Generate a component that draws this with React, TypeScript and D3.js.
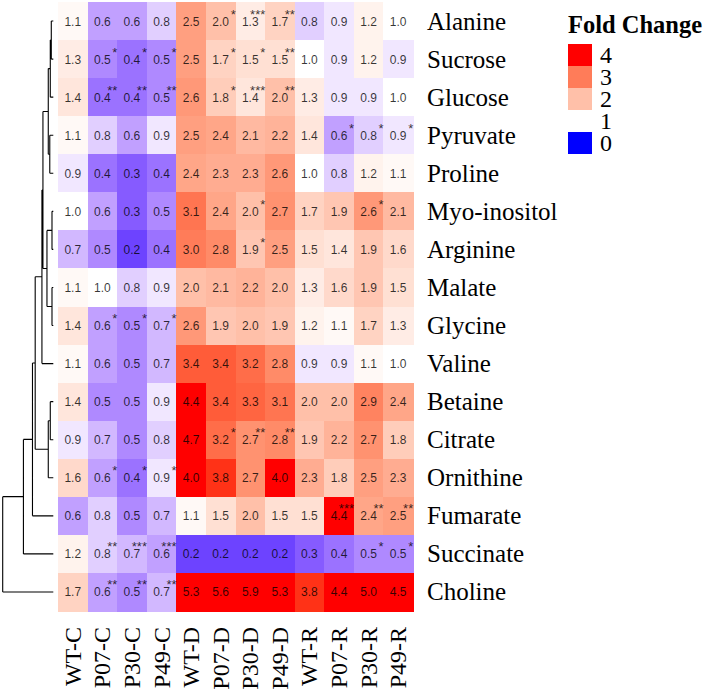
import * as d3 from "d3";

const metabolites = [
  "Alanine", "Sucrose", "Glucose", "Pyruvate", "Proline", "Myo-inositol",
  "Arginine", "Malate", "Glycine", "Valine", "Betaine", "Citrate",
  "Ornithine", "Fumarate", "Succinate", "Choline",
];

const samples = [
  "WT-C", "P07-C", "P30-C", "P49-C", "WT-D", "P07-D",
  "P30-D", "P49-D", "WT-R", "P07-R", "P30-R", "P49-R",
];

// fold change per metabolite (rows) and sample (columns)
const foldChange: number[][] = [
  [1.1, 0.6, 0.6, 0.8, 2.5, 2.0, 1.3, 1.7, 0.8, 0.9, 1.2, 1.0],
  [1.3, 0.5, 0.4, 0.5, 2.5, 1.7, 1.5, 1.5, 1.0, 0.9, 1.2, 0.9],
  [1.4, 0.4, 0.4, 0.5, 2.6, 1.8, 1.4, 2.0, 1.3, 0.9, 0.9, 1.0],
  [1.1, 0.8, 0.6, 0.9, 2.5, 2.4, 2.1, 2.2, 1.4, 0.6, 0.8, 0.9],
  [0.9, 0.4, 0.3, 0.4, 2.4, 2.3, 2.3, 2.6, 1.0, 0.8, 1.2, 1.1],
  [1.0, 0.6, 0.3, 0.5, 3.1, 2.4, 2.0, 2.7, 1.7, 1.9, 2.6, 2.1],
  [0.7, 0.5, 0.2, 0.4, 3.0, 2.8, 1.9, 2.5, 1.5, 1.4, 1.9, 1.6],
  [1.1, 1.0, 0.8, 0.9, 2.0, 2.1, 2.2, 2.0, 1.3, 1.6, 1.9, 1.5],
  [1.4, 0.6, 0.5, 0.7, 2.6, 1.9, 2.0, 1.9, 1.2, 1.1, 1.7, 1.3],
  [1.1, 0.6, 0.5, 0.7, 3.4, 3.4, 3.2, 2.8, 0.9, 0.9, 1.1, 1.0],
  [1.4, 0.5, 0.5, 0.9, 4.4, 3.4, 3.3, 3.1, 2.0, 2.0, 2.9, 2.4],
  [0.9, 0.7, 0.5, 0.8, 4.7, 3.2, 2.7, 2.8, 1.9, 2.2, 2.7, 1.8],
  [1.6, 0.6, 0.4, 0.9, 4.0, 3.8, 2.7, 4.0, 2.3, 1.8, 2.5, 2.3],
  [0.6, 0.8, 0.5, 0.7, 1.1, 1.5, 2.0, 1.5, 1.5, 4.4, 2.4, 2.5],
  [1.2, 0.8, 0.7, 0.6, 0.2, 0.2, 0.2, 0.2, 0.3, 0.4, 0.5, 0.5],
  [1.7, 0.6, 0.5, 0.7, 5.3, 5.6, 5.9, 5.3, 3.8, 4.4, 5.0, 4.5],
];

const significance: string[][] = [
  ["", "", "", "", "", "*", "***", "**", "", "", "", ""],
  ["", "*", "*", "*", "", "*", "*", "**", "", "", "", ""],
  ["", "**", "**", "**", "", "*", "***", "**", "", "", "", ""],
  ["", "", "", "", "", "", "", "", "", "*", "*", "*"],
  ["", "", "", "", "", "", "", "", "", "", "", ""],
  ["", "", "", "", "", "", "*", "", "", "", "*", ""],
  ["", "", "", "", "", "", "*", "", "", "", "", ""],
  ["", "", "", "", "", "", "", "", "", "", "", ""],
  ["", "*", "*", "*", "", "", "", "", "", "", "", ""],
  ["", "", "", "", "", "", "", "", "", "", "", ""],
  ["", "", "", "", "", "", "", "", "", "", "", ""],
  ["", "", "", "", "", "*", "**", "**", "", "", "", ""],
  ["", "*", "*", "*", "", "", "", "", "", "", "", ""],
  ["", "", "", "", "", "", "", "", "", "***", "**", "**"],
  ["", "**", "***", "***", "", "", "", "", "", "", "*", "*"],
  ["", "**", "**", "**", "", "", "", "", "", "", "", ""],
];

const legendBreaks = [4, 3, 2, 1, 0];

// row clustering (merge heights in dendrogram units)
type TreeNode = { name?: string; height?: number; children?: TreeNode[] };
const leaf = (name: string): TreeNode => ({ name, height: 0 });
const rowTree: TreeNode = {
  height: 50.3,
  children: [
    {
      height: 29.7,
      children: [
        {
          height: 20.7,
          children: [
            {
              height: 18,
              children: [
                {
                  height: 11.3,
                  children: [
                    {
                      height: 10.3,
                      children: [
                        {
                          height: 5,
                          children: [
                            { height: 3, children: [{ height: 2, children: [leaf("Alanine"), leaf("Sucrose")] }, leaf("Glucose")] },
                            { height: 3.5, children: [leaf("Pyruvate"), leaf("Proline")] },
                          ],
                        },
                        {
                          height: 6.3,
                          children: [
                            { height: 1.3, children: [leaf("Myo-inositol"), leaf("Arginine")] },
                            { height: 1.3, children: [leaf("Malate"), leaf("Glycine")] },
                          ],
                        },
                      ],
                    },
                    leaf("Valine"),
                  ],
                },
                {
                  height: 5,
                  children: [{ height: 3, children: [leaf("Betaine"), leaf("Citrate")] }, leaf("Ornithine")],
                },
              ],
            },
            leaf("Fumarate"),
          ],
        },
        leaf("Succinate"),
      ],
    },
    leaf("Choline"),
  ],
};

const SERIF = "'Liberation Serif', 'Times New Roman', serif";
const SANS = "'Liberation Sans', Arial, sans-serif";

export default function App() {
  const width = 708;
  const height = 690;

  const x = d3.scaleBand<string>().domain(samples).range([58, 413]);
  const y = d3.scaleBand<string>().domain(metabolites).range([2, 611]);
  const color = d3
    .scaleLinear<string>()
    .domain([0, 1, 4])
    .range(["#0000ff", "#ffffff", "#ff0000"])
    .interpolate(d3.interpolateLab)
    .clamp(true);

  // dendrogram
  const root = d3.hierarchy(rowTree);
  const hx = d3.scaleLinear().domain([0, rowTree.height as number]).range([53.3, 2.7]);
  const pos = new Map<d3.HierarchyNode<TreeNode>, number>();
  root.eachAfter((n) => {
    if (!n.children) pos.set(n, (y(n.data.name as string) as number) + y.bandwidth() / 2);
    else pos.set(n, d3.mean(n.children, (c) => pos.get(c) as number) as number);
  });
  const path = d3.path();
  root.each((n) => {
    if (!n.children) return;
    const xp = hx(n.data.height as number);
    const ys = n.children.map((c) => pos.get(c) as number);
    path.moveTo(xp, d3.min(ys) as number);
    path.lineTo(xp, d3.max(ys) as number);
    n.children.forEach((c) => {
      path.moveTo(xp, pos.get(c) as number);
      path.lineTo(hx(c.data.height as number), pos.get(c) as number);
    });
  });

  // legend
  const legendX = 568;
  const ly = d3.scaleBand<number>().domain(legendBreaks).range([44, 154]);

  return (
    <svg
      width={width}
      height={height}
      style={{ position: "absolute", left: 0, top: 0, background: "#fff" }}
    >
      <rect width={width} height={height} fill="#fff" />
      <path d={path.toString()} fill="none" stroke="#000" strokeWidth={1.1} />

      <g shapeRendering="crispEdges">
        {metabolites.map((m, i) =>
          samples.map((s, j) => (
            <rect
              key={`${m}-${s}`}
              x={x(s)}
              y={y(m)}
              width={x.bandwidth() + 0.5}
              height={y.bandwidth() + 0.5}
              fill={color(foldChange[i][j])}
            />
          ))
        )}
      </g>

      <g fontFamily={SANS} fill="#000" fillOpacity={0.78}>
        {metabolites.map((m, i) =>
          samples.map((s, j) => {
            const cx = (x(s) as number) + x.bandwidth() / 2;
            const cy = (y(m) as number) + y.bandwidth() / 2;
            const sig = significance[i][j];
            // value with its significance stars as a superscript chunk
            return (
              <text key={`t-${m}-${s}`} x={cx} y={cy + 4.5} textAnchor="middle" fontSize={12}>
                {foldChange[i][j].toFixed(1)}
                {sig && (
                  <tspan x={cx + 15} y={cy - 2.5} fontSize={13} textAnchor="end">
                    {sig}
                  </tspan>
                )}
              </text>
            );
          })
        )}
      </g>

      <g fontFamily={SERIF} fill="#000">
        {metabolites.map((m) => (
          <text key={`r-${m}`} x={427} y={(y(m) as number) + y.bandwidth() / 2 + 8.5} fontSize={25}>
            {m}
          </text>
        ))}
        {samples.map((s) => {
          const cx = (x(s) as number) + x.bandwidth() / 2 + 8;
          return (
            <text
              key={`c-${s}`}
              transform={`translate(${cx},627) rotate(-90)`}
              textAnchor="end"
              fontSize={24}
            >
              {s}
            </text>
          );
        })}
      </g>

      <g fontFamily={SERIF} fill="#000">
        <text x={legendX} y={33} fontSize={24.5} fontWeight="bold">
          Fold Change
        </text>
        {legendBreaks.map((b) => (
          <g key={`l-${b}`}>
            <rect
              x={legendX}
              y={ly(b)}
              width={23.5}
              height={ly.bandwidth()}
              fill={color(b)}
              shapeRendering="crispEdges"
            />
            <text x={600} y={(ly(b) as number) + ly.bandwidth() / 2 + 8} fontSize={24}>
              {b}
            </text>
          </g>
        ))}
      </g>
    </svg>
  );
}
